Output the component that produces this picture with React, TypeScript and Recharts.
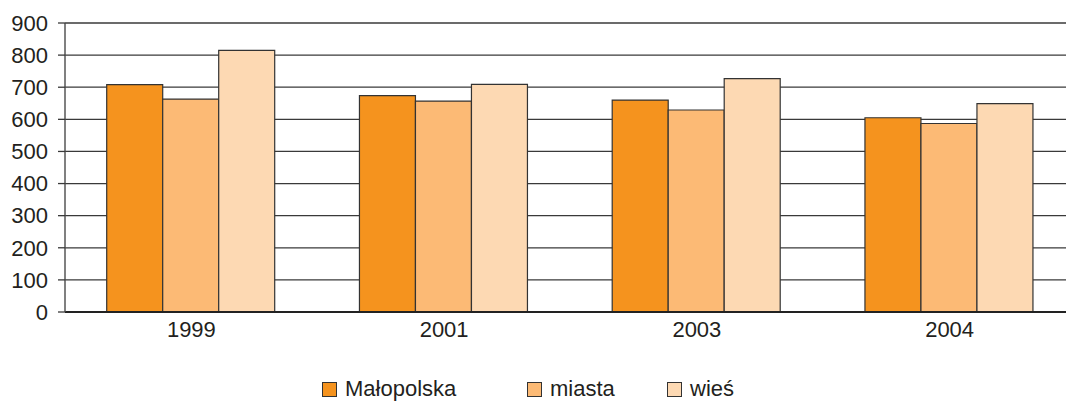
import React from "react";
import { BarChart, Bar, XAxis, YAxis, CartesianGrid, Legend } from "recharts";

const years = ["1999", "2001", "2003", "2004"];
const malopolska = [708, 674, 660, 605];
const miasta = [663, 657, 629, 587];
const wies = [815, 709, 727, 649];
const yTicks = [0, 100, 200, 300, 400, 500, 600, 700, 800, 900];

const seriesNames = ["Małopolska", "miasta", "wieś"];
const colors = ["#F5931E", "#FCBA75", "#FDD9B3"];

const data = years.map((y, i) => ({
  year: y,
  Małopolska: malopolska[i],
  miasta: miasta[i],
  wieś: wies[i],
}));

const FONT = "'Liberation Sans', Arial, sans-serif";

const legendOffsets = [322, 527, 667];

const LegendContent = () => (
  <div style={{ position: "relative", height: 26, width: 1066, fontFamily: FONT, fontSize: 22, color: "#231f20", lineHeight: "26px" }}>
    {seriesNames.map((n, i) => (
      <div key={n} style={{ position: "absolute", left: legendOffsets[i], top: 0, height: 26, display: "flex", alignItems: "center" }}>
        <span style={{ display: "inline-block", width: 13, height: 13, background: colors[i], border: "1px solid #333", marginRight: 8 }} />
        <span>{n}</span>
      </div>
    ))}
  </div>
);

export default function App() {
  return (
    <div style={{ position: "absolute", left: 0, top: 0, width: 1066, height: 402, overflow: "hidden", background: "#fff" }}>
      <BarChart
        width={1076}
        height={402}
        data={data}
        margin={{ top: 23, right: 0, left: 0, bottom: 60 }}
        barGap={0}
        barCategoryGap="16.5%"
      >
        <CartesianGrid horizontal={true} vertical={false} stroke="#3a3a3a" strokeWidth={1.3} />
        <XAxis
          dataKey="year"
          tickLine={false}
          tickSize={0}
          tickMargin={9}
          height={30}
          axisLine={{ stroke: "#222", strokeWidth: 2 }}
          tick={{ fill: "#231f20", fontSize: 22, fontFamily: FONT }}
        />
        <YAxis
          domain={[0, 900]}
          ticks={yTicks}
          width={65}
          tickSize={7}
          tickMargin={10}
          tickLine={{ stroke: "#3a3a3a", strokeWidth: 1.3 }}
          axisLine={{ stroke: "#4a4a4a", strokeWidth: 1.4 }}
          tick={{ fill: "#231f20", fontSize: 22, fontFamily: FONT }}
          interval={0}
        />
        <Legend
          verticalAlign="middle"
          align="center"
          layout="horizontal"
          wrapperStyle={{ top: 376, left: 0, width: 1066, height: 26 }}
          content={<LegendContent />}
        />
        {seriesNames.map((n, i) => (
          <Bar key={n} dataKey={n} fill={colors[i]} stroke="#333" strokeWidth={1.2} isAnimationActive={false} />
        ))}
      </BarChart>
    </div>
  );
}
